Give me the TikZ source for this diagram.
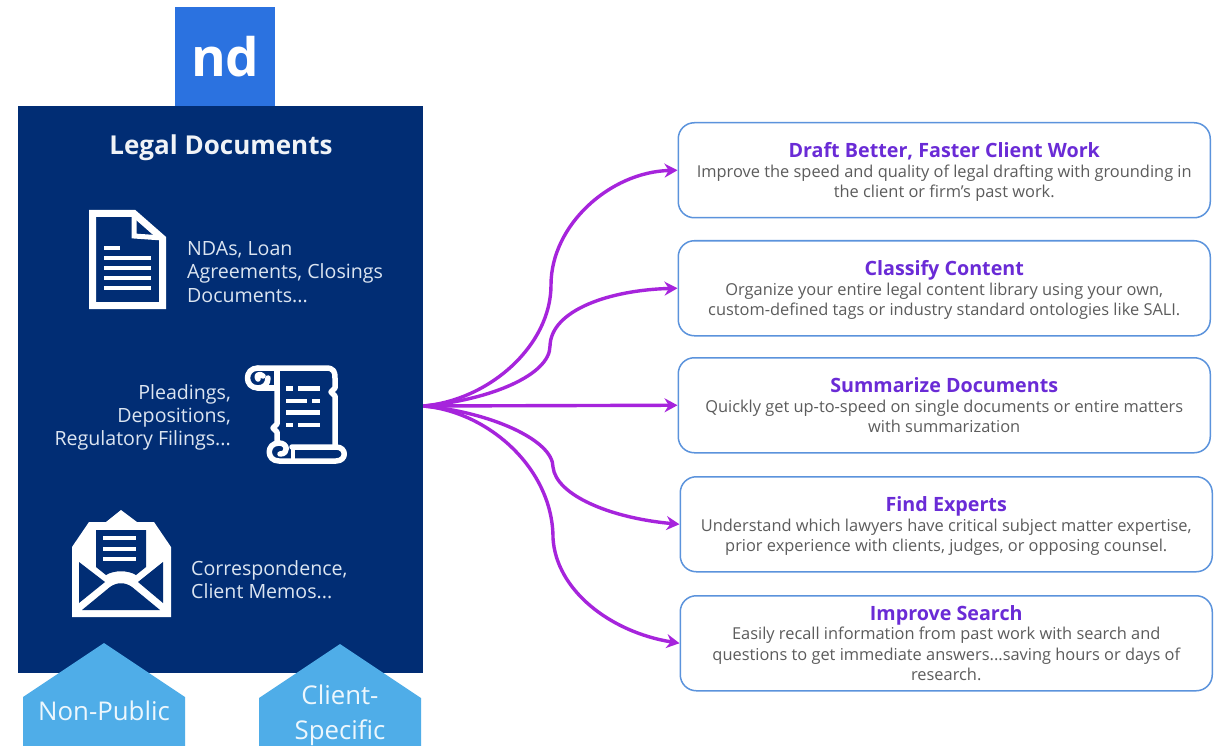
\documentclass[tikz,border=0pt]{standalone}
\usepackage{fontspec}
\setmainfont{Open Sans}
\usetikzlibrary{arrows.meta}
\definecolor{navy}{HTML}{012D74}
\definecolor{ndblue}{HTML}{2B72E0}
\definecolor{tagblue}{HTML}{4FADE8}
\definecolor{flow}{HTML}{A624DC}
\definecolor{edge}{HTML}{5B93DC}
\definecolor{headc}{HTML}{6A2BD6}
\definecolor{bodyc}{HTML}{5C5C5C}
\definecolor{lighttxt}{HTML}{DCE5F1}
\tikzset{
  x=1pt,y=-1pt,
  card/.style={draw=edge,line width=1.5pt,rounded corners=16pt,fill=white,anchor=north west,minimum width=532pt,minimum height=95pt,align=center,inner sep=0pt,text=bodyc,font=\fontsize{16.4}{20.5}\selectfont},
  flowline/.style={draw=flow,line width=3.4pt,-{Stealth[length=13pt,width=14pt]}},
  doctext/.style={text=lighttxt,font=\fontsize{19.6}{23.4}\selectfont,inner sep=0pt},
  tagtext/.style={text=white!90!tagblue,font=\fontsize{25.8}{35}\selectfont,align=center,inner sep=0pt},
  iconline/.style={draw=white,line width=7pt,line join=miter},
  thin icon/.style={draw=white,line width=4.5pt},
}
\newcommand{\cardhead}[1]{{\fontsize{19.7}{22}\selectfont\bfseries\color{headc}#1}}
\newcommand{\headpush}{\rule{0pt}{19pt}}
\begin{document}
\begin{tikzpicture}
\useasboundingbox (0,0) rectangle (1218,746);
\fill[white] (0,0) rectangle (1218,746);
% left panel
\node[fill=ndblue,anchor=north west,minimum width=100pt,minimum height=99pt,inner sep=0pt,text=white,font=\fontsize{53}{53}\selectfont\bfseries] (nd) at (175,7) {nd};
\node[fill=navy,anchor=north west,minimum width=405pt,minimum height=567pt,inner sep=0pt] (main) at (18,106) {};
\node[text=white!94!navy,font=\fontsize{26}{30}\selectfont\bfseries,inner sep=0pt] (title) at (221,148) {Legal Documents};
% document icon
\draw[iconline] (92.5,213.5) -- (134,213.5) -- (162.5,238.5) -- (162.5,305.5) -- (92.5,305.5) -- cycle;
\draw[draw=white,line width=5pt] (134,213.5) -- (134,236) -- (162.5,238);
\draw[thin icon] (104,248) -- (120,248) (104,258) -- (151,258) (104,268) -- (151,268) (104,278) -- (151,278) (104,288) -- (151,288);
\node[doctext,anchor=west,align=left] (t1) at (187,272) {NDAs, Loan\\Agreements, Closings\\Documents...};
% scroll icon
\begin{scope}[draw=white,line width=5.5pt,line cap=round,line join=round]
\draw (258,368) -- (326,368) .. controls (334,368) and (335,372) .. (335,378) -- (335,388) -- (331,392) -- (335,396) -- (335,446);
\draw (277,387) -- (277,424) -- (273,428) -- (277,432) -- (277,442);
\draw (258,368) .. controls (244,368) and (244,388) .. (258,388) .. controls (264,388) and (268,384) .. (268,378);
\draw (258,388) -- (277,388);
\draw (258,379) .. controls (255,375) and (260,373) .. (263,376);
\draw (277,370) -- (277,388);
\draw (292,447) -- (336,447) .. controls (347,447) and (347,461) .. (336,461) -- (279,461) .. controls (266,461) and (266,443) .. (279,443) .. controls (288,443) and (289,454) .. (280,454);
\draw[line width=3.5pt] (293,447) -- (293,461);
\end{scope}
\draw[thin icon] (286,388.5) -- (293,388.5) (298,388.5) -- (320,388.5) (286,401) -- (307,401) (312,401) -- (320,401) (286,412.5) -- (320,412.5) (286,425) -- (293,425) (298,425) -- (320,425);
\node[doctext,anchor=east,align=right] (t2) at (231,417.5) {Pleadings,\\Depositions,\\Regulatory Filings...};
% envelope icon
\fill[white] (72,547) -- (89,522) -- (106,522) -- (121,510) -- (137,522) -- (154,522) -- (171,547) -- (171,617) -- (72,617) -- cycle;
\fill[navy] (96,530) -- (146,530) -- (146,567) -- (136,575) .. controls (128,570) and (114,570) .. (106,575) -- (96,567) -- cycle;
\fill[navy] (79,562) -- (79,603) -- (105,582) -- cycle;
\fill[navy] (163,562) -- (163,603) -- (138,582) -- cycle;
\fill[navy] (82,610) -- (110,587) .. controls (117,582) and (125,582) .. (132,587) -- (160,610) -- cycle;
\draw[draw=white,line width=3.5pt] (103,538) -- (136,538) (103,549) -- (136,549) (103,559) -- (136,559);
\node[doctext,anchor=west,align=left] (t3) at (191,579.5) {Correspondence,\\Client Memos...};
% tags
\fill[tagblue] (104,643) -- (185,697) -- (185,746) -- (23,746) -- (23,697) -- cycle;
\fill[tagblue] (340,644) -- (421,698) -- (421,746) -- (259,746) -- (259,698) -- cycle;
\node[tagtext] (tag1) at (104,711) {Non-Public};
\node[tagtext] (tag2) at (340,715) {Client-\\Specific};
% cards
\node[card] (c1) at (677.5,122) {\headpush\cardhead{Draft Better, Faster Client Work}\\[-1pt]Improve the speed and quality of legal drafting with grounding in\\the client or firm’s past work.};
\node[card] (c2) at (677.5,240) {\headpush\cardhead{Classify Content}\\[-1pt]Organize your entire legal content library using your own,\\custom-defined tags or industry standard ontologies like SALI.};
\node[card] (c3) at (677.5,357) {\cardhead{Summarize Documents}\\[-1pt]Quickly get up-to-speed on single documents or entire matters\\with summarization};
\node[card] (c4) at (679.5,476) {\headpush\cardhead{Find Experts}\\[-1pt]Understand which lawyers have critical subject matter expertise,\\prior experience with clients, judges, or opposing counsel.};
\node[card] (c5) at (679.5,595) {\cardhead{Improve Search}\\[-1pt]Easily recall information from past work with search and\\questions to get immediate answers...saving hours or days of\\research.};
% connectors
\coordinate (hub) at (main.east |- 0,406);
\draw[flowline] (hub) .. controls (490,400) and (551,345) .. (551,285) .. controls (551,225) and (610,172) .. (c1.west);
\draw[flowline] (hub) .. controls (490,400) and (550,375) .. (550,346) .. controls (551,310) and (610,290) .. (c2.west);
\draw[flowline] (hub) -- (c3.west);
\draw[flowline] (hub) .. controls (490,412) and (553,440) .. (553,467) .. controls (556,495) and (610,518) .. (c4.west);
\draw[flowline] (hub) .. controls (490,412) and (553,470) .. (553,538) .. controls (556,590) and (610,632) .. (c5.west);
\end{tikzpicture}
\end{document}
